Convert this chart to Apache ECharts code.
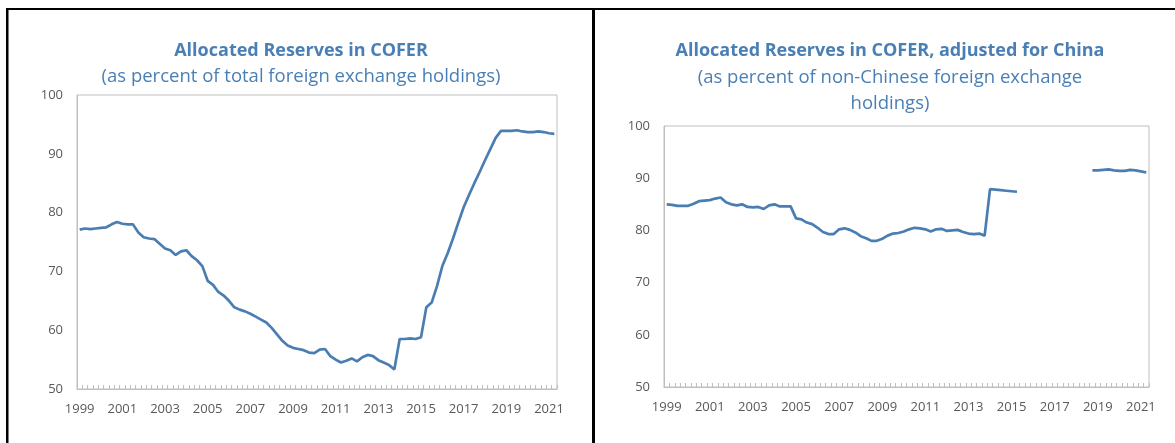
<!DOCTYPE html>
<html>
<head>
<meta charset="utf-8">
<script src="https://cdn.jsdelivr.net/npm/echarts@6/dist/echarts.min.js"></script>
<style>
  html, body { margin: 0; padding: 0; background: #fff; }
  #chart { width: 1175px; height: 443px; }
</style>
</head>
<body>
<div id="chart"></div>
<script>
// quarterly, 1999Q1 .. 2021Q2
const years = ['1999', '2000', '2001', '2002', '2003', '2004', '2005', '2006', '2007', '2008', '2009',
  '2010', '2011', '2012', '2013', '2014', '2015', '2016', '2017', '2018', '2019', '2020', '2021']
const quarters = ['Q1', 'Q2', 'Q3', 'Q4']
const categories = []
years.forEach(y => quarters.forEach(q => categories.push(y + q)))
categories.length = 90

// allocated reserves, % of total FX holdings
const allocatedTotal = [
  77.1, 77.3, 77.2, 77.3, 77.4, 77.5, 78.0, 78.4, 78.1, 78.0,
  78.0, 76.6, 75.8, 75.6, 75.5, 74.7, 73.9, 73.6, 72.8, 73.4,
  73.6, 72.6, 71.9, 70.9, 68.4, 67.7, 66.5, 65.9, 65.0, 63.9,
  63.5, 63.2, 62.8, 62.3, 61.8, 61.3, 60.4, 59.3, 58.2, 57.4,
  57.0, 56.8, 56.6, 56.2, 56.1, 56.7, 56.8, 55.6, 55.0, 54.5,
  54.8, 55.2, 54.7, 55.4, 55.8, 55.6, 54.9, 54.5, 54.1, 53.3,
  58.5, 58.5, 58.6, 58.5, 58.8, 63.9, 64.7, 67.5, 70.9, 73.1,
  75.6, 78.3, 80.9, 83.0, 85.0, 86.9, 88.9, 90.8, 92.7, 93.9,
  93.9, 93.9, 94.0, 93.8, 93.7, 93.7, 93.8, 93.7, 93.5, 93.4
]

// allocated reserves, % of non-Chinese FX holdings (gap where no data)
const allocatedExChina = [
  85.0, 84.9, 84.7, 84.7, 84.7, 85.1, 85.6, 85.7, 85.8, 86.1,
  86.3, 85.4, 85.0, 84.8, 85.0, 84.5, 84.4, 84.5, 84.1, 84.8,
  85.0, 84.6, 84.6, 84.6, 82.3, 82.1, 81.5, 81.2, 80.5, 79.7,
  79.3, 79.3, 80.2, 80.4, 80.1, 79.6, 78.9, 78.5, 78.0, 78.0,
  78.4, 79.0, 79.4, 79.5, 79.8, 80.2, 80.5, 80.4, 80.2, 79.8,
  80.2, 80.3, 79.9, 80.0, 80.1, 79.7, 79.4, 79.3, 79.4, 79.0,
  87.9, 87.8, 87.7, 87.6, 87.5, 87.4, null, null, null, null,
  null, null, null, null, null, null, null, null, null, 91.5,
  91.5, 91.6, 91.7, 91.5, 91.4, 91.4, 91.6, 91.5, 91.3, 91.1
]

const yTicks = { min: 50, max: 100, interval: 10 }

const FONT = '"Open Sans", "Noto Sans", sans-serif'
const BLUE = '#4a7fb5'
const LINE = '#4a7eb2'
const GREY = '#bfbfbf'
const LABEL = '#595959'

const chart = echarts.init(document.getElementById('chart'))

const xAxisBase = (gridIndex) => ({
  type: 'category',
  gridIndex,
  data: categories,
  boundaryGap: true,
  axisLine: { lineStyle: { color: GREY, width: 1 } },
  axisTick: { show: true, inside: true, length: 4, interval: 0, lineStyle: { color: GREY } },
  axisLabel: {
    interval: 7,
    margin: 14,
    color: LABEL,
    fontFamily: FONT,
    fontSize: 13,
    formatter: v => v.slice(0, 4)
  },
  splitLine: { show: false }
})

const yAxisBase = (gridIndex) => ({
  type: 'value',
  gridIndex,
  min: yTicks.min,
  max: yTicks.max,
  interval: yTicks.interval,
  axisLine: { show: true, lineStyle: { color: GREY } },
  axisTick: { show: false },
  axisLabel: { margin: 14, color: LABEL, fontFamily: FONT, fontSize: 13 },
  splitLine: { show: false }
})

const titleText = (x, y, text, bold) => ({
  type: 'text',
  x, y,
  style: {
    text,
    fill: BLUE,
    font: (bold ? 'bold 18px ' : '18.5px ') + FONT,
    textAlign: 'center',
    textVerticalAlign: 'middle'
  }
})

chart.setOption({
  animation: false,
  grid: [
    { left: 77, top: 95, width: 480, height: 294, show: true, borderColor: GREY, borderWidth: 1, outerBoundsMode: 'none' },
    { left: 664, top: 126, width: 485, height: 261, show: true, borderColor: GREY, borderWidth: 1, outerBoundsMode: 'none' }
  ],
  xAxis: [xAxisBase(0), xAxisBase(1)],
  yAxis: [yAxisBase(0), yAxisBase(1)],
  series: [
    {
      type: 'line', xAxisIndex: 0, yAxisIndex: 0,
      data: allocatedTotal, showSymbol: false,
      lineStyle: { color: LINE, width: 2.7 }
    },
    {
      type: 'line', xAxisIndex: 1, yAxisIndex: 1,
      data: allocatedExChina, showSymbol: false, connectNulls: false,
      lineStyle: { color: LINE, width: 2.7 }
    }
  ],
  graphic: [
    // panel frames
    { type: 'rect', shape: { x: 6, y: 8, width: 1169, height: 2 }, style: { fill: '#000' } },
    { type: 'rect', shape: { x: 6, y: 8, width: 2.5, height: 435 }, style: { fill: '#000' } },
    { type: 'rect', shape: { x: 592, y: 8, width: 3, height: 435 }, style: { fill: '#000' } },
    titleText(301, 51, 'Allocated Reserves in COFER', true),
    titleText(301, 77, '(as percent of total foreign exchange holdings)', false),
    titleText(890, 51, 'Allocated Reserves in COFER, adjusted for China', true),
    titleText(890, 78, '(as percent of non-Chinese foreign exchange', false),
    titleText(890, 104, 'holdings)', false)
  ]
})
</script>
</body>
</html>
